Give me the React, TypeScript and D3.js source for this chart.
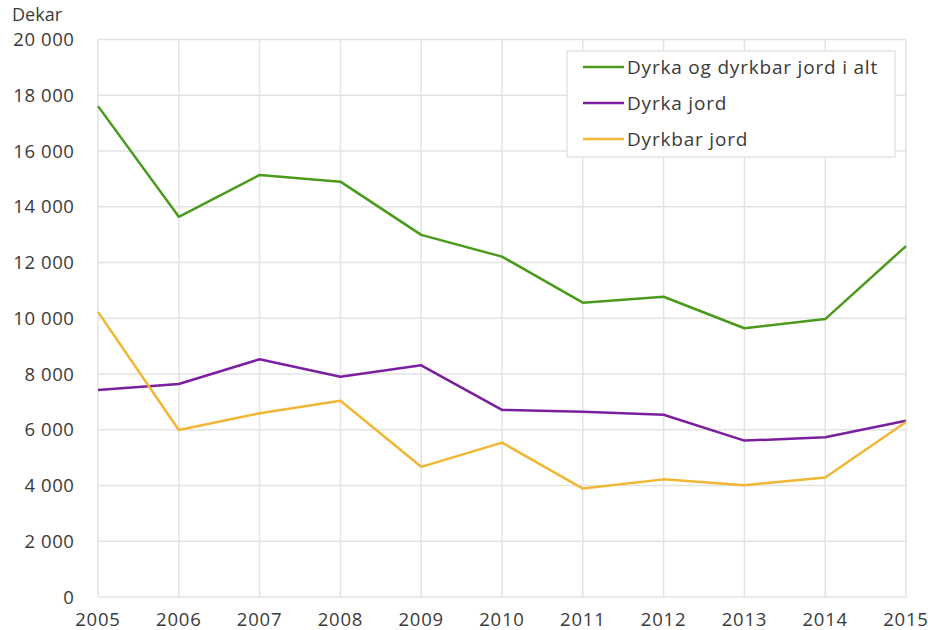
import { useEffect } from "react";
import * as d3 from "d3";

const years = [2005, 2006, 2007, 2008, 2009, 2010, 2011, 2012, 2013, 2014, 2015];
const totalValues = [17610, 13640, 15140, 14900, 12990, 12210, 10560, 10770, 9640, 9970, 12590];
const cultivatedValues = [7425, 7640, 8530, 7900, 8310, 6710, 6650, 6540, 5610, 5730, 6320];
const cultivableValues = [10230, 5990, 6590, 7040, 4670, 5540, 3890, 4220, 4010, 4290, 6280];
const seriesNames = ["Dyrka og dyrkbar jord i alt", "Dyrka jord", "Dyrkbar jord"];
const seriesColors = ["#4a9a1c", "#7b1fa0", "#f1b732"];
const yTicks = [0, 2000, 4000, 6000, 8000, 10000, 12000, 14000, 16000, 18000, 20000];

const W = 928;
const H = 630;
const FONT = "'Open Sans', sans-serif";

export default function App() {
  useEffect(() => {
    document.body.style.margin = "0";
  }, []);

  const x = d3.scaleLinear().domain([2005, 2015]).range([98, 906]);
  const y = d3.scaleLinear().domain([0, 20000]).range([597, 39.5]);
  const fmt = (v: number) => d3.format(",")(v).replace(/,/g, " ");

  const line = d3
    .line<number>()
    .x((_, i) => x(years[i]))
    .y((d) => y(d));

  const series = [totalValues, cultivatedValues, cultivableValues];

  return (
    <svg width={W} height={H} style={{ display: "block", background: "#fff" }} fontFamily={FONT}>
      {/* grid */}
      {yTicks.map((t) => (
        <line key={"h" + t} x1={x(2005)} x2={x(2015)} y1={y(t)} y2={y(t)} stroke="#e3e3e3" strokeWidth={1.5} />
      ))}
      {years.map((yr) => (
        <line key={"v" + yr} x1={x(yr)} x2={x(yr)} y1={y(0)} y2={y(20000)} stroke="#e3e3e3" strokeWidth={1.5} />
      ))}
      {/* y labels */}
      {yTicks.map((t) => (
        <text key={"yl" + t} x={74.5} y={y(t)} dy="0.36em" textAnchor="end" fontSize={18.5} letterSpacing={0.6} fill="#3a3a3a">
          {fmt(t)}
        </text>
      ))}
      <text x={12} y={20.5} fontSize={18} fill="#3a3a3a">Dekar</text>
      {/* x labels */}
      {years.map((yr) => (
        <text key={"xl" + yr} x={x(yr)} y={626} textAnchor="middle" fontSize={18.5} letterSpacing={0.8} fill="#3a3a3a">
          {yr}
        </text>
      ))}
      {/* lines */}
      {series.map((s, i) => (
        <path key={"s" + i} d={line(s) || ""} fill="none" stroke={seriesColors[i]} strokeWidth={2.5} strokeLinejoin="round" />
      ))}
      {/* legend */}
      <rect x={567} y={51} width={328} height={106} fill="#fff" stroke="#e3e3e3" strokeWidth={1.5} />
      {seriesNames.map((name, i) => (
        <g key={"lg" + i} transform={`translate(583,${67 + i * 36})`}>
          <line x1={0} x2={41} y1={0} y2={0} stroke={seriesColors[i]} strokeWidth={2.5} />
          <text x={44} y={0} dy="0.35em" fontSize={19} letterSpacing={0.8} fill="#3a3a3a">{name}</text>
        </g>
      ))}
    </svg>
  );
}
